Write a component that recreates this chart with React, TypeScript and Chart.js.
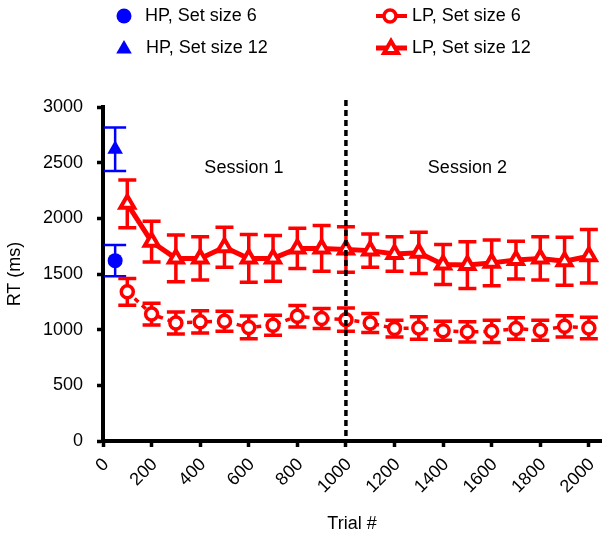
import { useEffect, useRef } from "react";
import { Chart, registerables } from "chart.js";

Chart.register(...registerables);

// ---- data ----
const lpTrials = [100, 200, 300, 400, 500, 600, 700, 800, 900, 1000, 1100, 1200, 1300, 1400, 1500, 1600, 1700, 1800, 1900, 2000];
const lp6Mean = [1340, 1140, 1060, 1070, 1075, 1020, 1040, 1120, 1100, 1090, 1060, 1010, 1015, 990, 980, 985, 1010, 995, 1030, 1015];
const lp6Sem = [120, 97, 98, 100, 90, 102, 90, 97, 90, 105, 85, 75, 100, 85, 90, 100, 97, 90, 95, 97];
const lp12Mean = [2130, 1790, 1640, 1640, 1740, 1640, 1640, 1730, 1730, 1720, 1710, 1680, 1690, 1585, 1580, 1600, 1625, 1640, 1615, 1660];
const lp12Sem = [214, 183, 210, 195, 180, 215, 205, 180, 205, 205, 150, 155, 185, 180, 210, 205, 170, 195, 215, 240];
const hpTrials = [50];
const hp6Mean = [1620];
const hp6Sem = [140];
const hp12Mean = [2620];
const hp12Sem = [195];

const xTicks = [0, 200, 400, 600, 800, 1000, 1200, 1400, 1600, 1800, 2000];
const yTicks = [0, 500, 1000, 1500, 2000, 2500, 3000];
const sessionLabels = ["Session 1", "Session 2"];
const sessionX = [580, 1500];
const sessionY = 2450;
const boundaryTrial = 1000;
const seriesLabels = ["HP, Set size 6", "HP, Set size 12", "LP, Set size 6", "LP, Set size 12"];

const BLUE = "#0000ff";
const RED = "#ff0000";
const FONT = "'Liberation Sans', Arial, Helvetica, sans-serif";

function triPath(ctx: CanvasRenderingContext2D, x: number, y: number, r: number) {
  let rad = 0;
  ctx.beginPath();
  ctx.moveTo(x + Math.sin(rad) * r, y - Math.cos(rad) * r);
  rad += (2 * Math.PI) / 3;
  ctx.lineTo(x + Math.sin(rad) * r, y - Math.cos(rad) * r);
  rad += (2 * Math.PI) / 3;
  ctx.lineTo(x + Math.sin(rad) * r, y - Math.cos(rad) * r);
  ctx.closePath();
}

const overlay = {
  id: "overlay",
  beforeDatasetsDraw(chart: any) {
    const ctx = chart.ctx as CanvasRenderingContext2D;
    const xs = chart.scales.x;
    const ys = chart.scales.y;
    const drawErr = (tx: number[], m: number[], s: number[], color: string, lw: number, cap: number) => {
      ctx.save();
      ctx.strokeStyle = color;
      ctx.lineWidth = lw;
      ctx.lineCap = "butt";
      tx.forEach((t, i) => {
        const px = xs.getPixelForValue(t);
        const top = ys.getPixelForValue(m[i] + s[i]);
        const bot = ys.getPixelForValue(m[i] - s[i]);
        ctx.beginPath();
        ctx.moveTo(px, top);
        ctx.lineTo(px, bot);
        ctx.moveTo(px - cap / 2, top);
        ctx.lineTo(px + cap / 2, top);
        ctx.moveTo(px - cap / 2, bot);
        ctx.lineTo(px + cap / 2, bot);
        ctx.stroke();
      });
      ctx.restore();
    };
    drawErr(hpTrials, hp6Mean, hp6Sem, BLUE, 2.5, 22);
    drawErr(hpTrials, hp12Mean, hp12Sem, BLUE, 2.5, 22);
    drawErr(lpTrials, lp6Mean, lp6Sem, RED, 3.5, 18);
    drawErr(lpTrials, lp12Mean, lp12Sem, RED, 3.5, 18);
  },
  afterDatasetsDraw(chart: any) {
    const ctx = chart.ctx as CanvasRenderingContext2D;
    const xs = chart.scales.x;
    const ys = chart.scales.y;
    const px = xs.getPixelForValue(boundaryTrial);
    ctx.save();
    ctx.strokeStyle = "#000";
    ctx.lineWidth = 3.5;
    ctx.setLineDash([6, 4]);
    ctx.beginPath();
    ctx.moveTo(px, ys.getPixelForValue(3000) - 7);
    ctx.lineTo(px, ys.getPixelForValue(0));
    ctx.stroke();
    ctx.restore();

    ctx.save();
    ctx.fillStyle = "#000";
    ctx.font = `18px ${FONT}`;
    ctx.textAlign = "center";
    ctx.textBaseline = "middle";
    sessionLabels.forEach((l, i) => {
      ctx.fillText(l, xs.getPixelForValue(sessionX[i]), ys.getPixelForValue(sessionY));
    });
    ctx.restore();
  },
  afterDraw(chart: any) {
    const ctx = chart.ctx as CanvasRenderingContext2D;
    const rows = [16, 48];
    ctx.save();
    // HP circle
    ctx.fillStyle = BLUE;
    ctx.beginPath();
    ctx.arc(124, rows[0], 7.5, 0, Math.PI * 2);
    ctx.fill();
    // HP triangle
    triPath(ctx, 124, rows[1] + 1, 9);
    ctx.fill();
    // LP circle
    ctx.strokeStyle = RED;
    ctx.lineWidth = 4;
    ctx.beginPath();
    ctx.moveTo(376, rows[0]);
    ctx.lineTo(407, rows[0]);
    ctx.stroke();
    ctx.fillStyle = "#fff";
    ctx.lineWidth = 3.5;
    ctx.beginPath();
    ctx.arc(390, rows[0], 6, 0, Math.PI * 2);
    ctx.fill();
    ctx.stroke();
    // LP triangle
    ctx.lineWidth = 5;
    ctx.beginPath();
    ctx.moveTo(376, rows[1]);
    ctx.lineTo(407, rows[1]);
    ctx.stroke();
    ctx.lineWidth = 4;
    triPath(ctx, 391, rows[1] + 1, 8);
    ctx.fill();
    ctx.stroke();

    ctx.fillStyle = "#000";
    ctx.font = `18px ${FONT}`;
    ctx.textAlign = "left";
    ctx.textBaseline = "middle";
    ctx.fillText(seriesLabels[0], 145, rows[0]);
    ctx.fillText(seriesLabels[1], 146, rows[1]);
    ctx.fillText(seriesLabels[2], 412, rows[0]);
    ctx.fillText(seriesLabels[3], 412, rows[1]);
    ctx.restore();
  },
};

export default function App() {
  const ref = useRef<HTMLCanvasElement | null>(null);
  useEffect(() => {
    document.body.style.margin = "0";
    const canvas = ref.current;
    if (!canvas) return;
    const font = { family: FONT, size: 18 };
    const gridOpts = {
      display: true,
      drawOnChartArea: false,
      drawTicks: true,
      tickLength: 6,
      tickWidth: 3.5,
      tickColor: "#000",
    };
    const plain = (v: any) => String(v);
    const chart = new Chart(canvas, {
      type: "line",
      data: {
        datasets: [
          {
            label: seriesLabels[0],
            type: "scatter",
            data: hpTrials.map((t, i) => ({ x: t, y: hp6Mean[i] })),
            pointStyle: "circle",
            pointRadius: 7.5,
            pointBackgroundColor: BLUE,
            pointBorderColor: BLUE,
            pointBorderWidth: 0,
            showLine: false,
          },
          {
            label: seriesLabels[1],
            type: "scatter",
            data: hpTrials.map((t, i) => ({ x: t, y: hp12Mean[i] })),
            pointStyle: "triangle",
            pointRadius: 9,
            pointBackgroundColor: BLUE,
            pointBorderColor: BLUE,
            pointBorderWidth: 0,
            showLine: false,
          },
          {
            label: seriesLabels[2],
            data: lpTrials.map((t, i) => ({ x: t, y: lp6Mean[i] })),
            borderColor: RED,
            borderWidth: 3.5,
            borderDash: [5, 5],
            pointStyle: "circle",
            pointRadius: 6,
            pointBorderWidth: 3.5,
            pointBorderColor: RED,
            pointBackgroundColor: "#fff",
            tension: 0,
          },
          {
            label: seriesLabels[3],
            data: lpTrials.map((t, i) => ({ x: t, y: lp12Mean[i] })),
            borderColor: RED,
            borderWidth: 5,
            pointStyle: "triangle",
            pointRadius: 8,
            pointBorderWidth: 4,
            pointBorderColor: RED,
            pointBackgroundColor: "#fff",
            tension: 0,
          },
        ],
      },
      options: {
        animation: false,
        responsive: false,
        devicePixelRatio: 1,
        layout: { padding: { top: 107, right: 6, left: 0, bottom: 0 } },
        plugins: { legend: { display: false }, tooltip: { enabled: false } },
        scales: {
          x: {
            type: "linear",
            min: 0,
            max: 2050,
            afterBuildTicks: (s: any) => {
              s.ticks = xTicks.map((v) => ({ value: v }));
            },
            afterFit: (s: any) => {
              s.height = 98;
            },
            ticks: {
              autoSkip: false,
              minRotation: 45,
              maxRotation: 45,
              padding: 7,
              labelOffset: 3,
              color: "#000",
              font,
              callback: plain,
            },
            grid: gridOpts,
            border: { display: true, color: "#000", width: 4 },
            title: { display: true, text: "Trial #", color: "#000", font },
          },
          y: {
            type: "linear",
            min: 0,
            max: 3000,
            afterBuildTicks: (s: any) => {
              s.ticks = yTicks.map((v) => ({ value: v }));
            },
            afterFit: (s: any) => {
              s.width = 103;
            },
            ticks: { padding: 14, color: "#000", font, callback: plain },
            grid: gridOpts,
            border: { display: true, color: "#000", width: 4 },
            title: { display: true, text: "RT (ms)", color: "#000", font },
          },
        },
      } as any,
      plugins: [overlay],
    });
    return () => chart.destroy();
  }, []);
  return (
    <div style={{ width: 613, height: 539 }}>
      <canvas ref={ref} width={613} height={539} style={{ display: "block" }} />
    </div>
  );
}
